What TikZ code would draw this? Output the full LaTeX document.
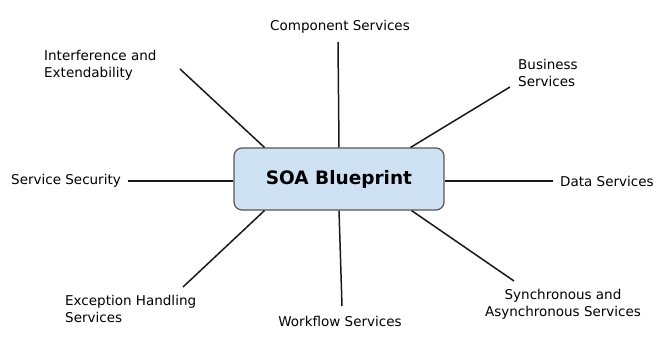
\documentclass[tikz,border=0pt]{standalone}
\usepackage{fontspec}
\setmainfont{DejaVu Sans}
\usepackage{tikz}
\usetikzlibrary{calc}

\definecolor{boxfill}{HTML}{CFE2F3}
\definecolor{boxline}{HTML}{555555}

\begin{document}
\begin{tikzpicture}[
  x=1pt, y=-1pt,
  font=\fontsize{13.5}{17}\selectfont,
  hub/.style={
    draw=boxline, line width=1.2pt, rounded corners=8pt, fill=boxfill,
    minimum width=210pt, minimum height=62pt, inner sep=0pt,
    font=\fontsize{18.5}{22}\selectfont\bfseries
  },
  lbl/.style={inner sep=0pt, align=left},
  lblc/.style={inner sep=0pt, align=center},
  spoke/.style={line width=1.5pt, draw=black!90}
]
  \useasboundingbox (0,0) rectangle (670,339);

  \node[hub] (soa) at (339,179) {SOA Blueprint};

  \node[lblc] (comp) at (340,27) {Component Services};
  \node[lbl, anchor=west] (ifext) at (44,65.5) {Interference and\\Extendability};
  \node[lbl, anchor=west] (bus) at (518,73) {Business\\Services};
  \node[lbl, anchor=west] (sec) at (11,181) {Service Security};
  \node[lbl, anchor=west] (data) at (560,181) {Data Services};
  \node[lbl, anchor=west] (exc) at (65,308.5) {Exception Handling\\Services};
  \node[lblc] (wf) at (340,321) {Workflow Services};
  \node[lblc] (sync) at (563,304) {Synchronous and\\Asynchronous Services};

  \coordinate (comp-end) at (338,42);
  \coordinate (ifext-end) at (180,69);
  \coordinate (bus-end) at (510,87);
  \coordinate (sec-end) at (128,181);
  \coordinate (data-end) at (553,181);
  \coordinate (exc-end) at (183,287);
  \coordinate (wf-end) at (342,306);
  \coordinate (sync-end) at (514,281);

  \draw[spoke] (comp-end) -- (soa.north);
  \draw[spoke] (ifext-end) -- ($(soa.north west)+(31,0)$);
  \draw[spoke] (bus-end) -- ($(soa.north east)+(-34,0)$);
  \draw[spoke] (sec-end) -- ($(soa.west)+(0,2)$);
  \draw[spoke] (data-end) -- ($(soa.east)+(0,2)$);
  \draw[spoke] (exc-end) -- ($(soa.south west)+(31,0)$);
  \draw[spoke] (wf-end) -- (soa.south);
  \draw[spoke] (sync-end) -- ($(soa.south east)+(-33,0)$);
\end{tikzpicture}
\end{document}
